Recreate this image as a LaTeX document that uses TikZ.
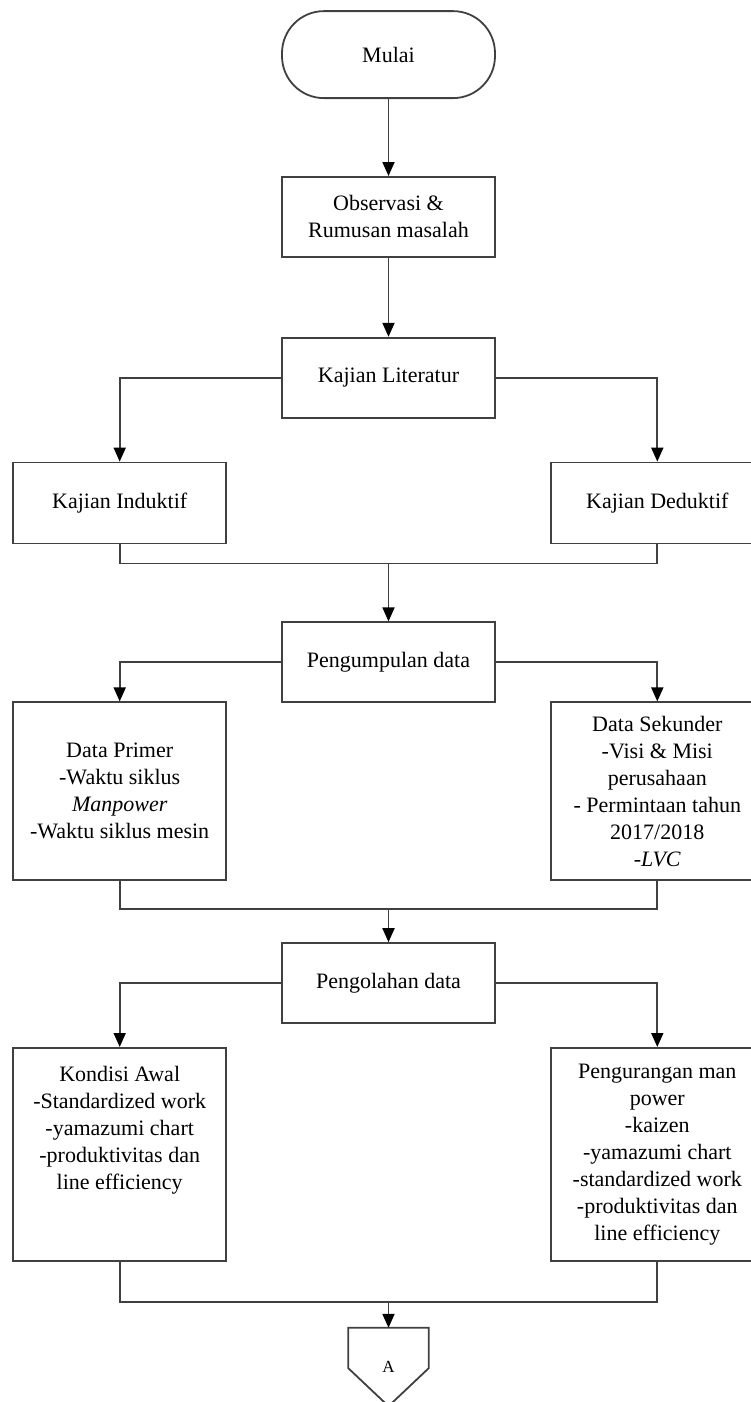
\documentclass[tikz,border=0pt]{standalone}
\usepackage{fontspec}
\setmainfont{Liberation Serif}
\usetikzlibrary{matrix,arrows.meta,positioning}

\begin{document}
\begin{tikzpicture}[
          >={Triangle[length=14pt,width=12pt,color=black]},
          every node/.style={font=\fontsize{22}{27}\selectfont},
          box/.style={
            rectangle,
            draw=black!75,
            line width=1.8pt,
            align=center,
            minimum width=213pt,
            minimum height=80pt,
          },
          terminal/.style={box, rounded corners=42pt, minimum height=87pt},
          tallbox/.style={box, minimum height=178pt},
          bigbox/.style={box, minimum height=213pt},
          connector/.style={
            inner sep=0pt,
            minimum width=80pt,
            minimum height=78pt,
            font=\fontsize{17}{20}\selectfont,
          },
          flow/.style={draw=black!75, line width=1.8pt},
        ]
          \useasboundingbox (0pt,0pt) rectangle (750pt,-1402pt);

          \matrix[inner sep=0pt, row sep=0pt, column sep=54pt, anchor=north] at (388.5pt,-10pt) {%
            & \node[terminal](start){Mulai}; & \\[77pt]

            & \node[box](obs){Observasi \&\\Rumusan masalah}; & \\[79pt]

            & \node[box](lit){Kajian Literatur}; & \\[43pt]

            \node[box,minimum height=81pt](ind){Kajian Induktif};
              &
              & \node[box,minimum height=81pt](ded){Kajian Deduktif}; \\[77pt]

            & \node[box](kumpul){Pengumpulan data}; & \\[-1.8pt]

            \node[tallbox](primer){Data Primer\\-Waktu siklus\\\textit{Manpower}\\-Waktu siklus mesin};
              &
              & \node[tallbox](sekunder){Data Sekunder\\-Visi \& Misi\\perusahaan\\- Permintaan tahun\\2017/2018\\-\textit{LVC}}; \\[61pt]

            & \node[box](olah){Pengolahan data}; & \\[23pt]

            \node[bigbox](awal){Kondisi Awal\\-Standardized work\\-yamazumi chart\\-produktivitas dan\\line efficiency\\~\\~};
              &
              & \node[bigbox](kurang){Pengurangan man\\power\\-kaizen\\-yamazumi chart\\-standardized work\\-produktivitas dan\\line efficiency}; \\[66pt]

            & \node[connector](conA){A}; & \\
          };

          % off-page connector
          \draw[flow] (conA.north west) -- (conA.north east)
              -- ([yshift=38pt]conA.south east) -- (conA.south)
              -- ([yshift=38pt]conA.south west) -- cycle;

          % joins
          \coordinate (j1) at ([yshift=-19pt]ind.south -| lit.south);
          \coordinate (j2) at ([yshift=-28pt]primer.south -| kumpul.south);
          \coordinate (j3) at ([yshift=-40pt]awal.south -| olah.south);

          \draw[flow]
              (start) edge [->] (obs)
              (obs) edge [->] (lit)
              (j1) edge [->] (kumpul)
              (j2) edge [->] (olah)
              (j3) edge [->] (conA);

          \draw[flow,->] (lit.west) -| (ind.north);
          \draw[flow,->] (lit.east) -| (ded.north);
          \draw[flow] (ind.south) |- (j1) -| (ded.south);

          \draw[flow,->] (kumpul.west) -| (primer.north);
          \draw[flow,->] (kumpul.east) -| (sekunder.north);
          \draw[flow] (primer.south) |- (j2) -| (sekunder.south);

          \draw[flow,->] (olah.west) -| (awal.north);
          \draw[flow,->] (olah.east) -| (kurang.north);
          \draw[flow] (awal.south) |- (j3) -| (kurang.south);
        \end{tikzpicture}
\end{document}
